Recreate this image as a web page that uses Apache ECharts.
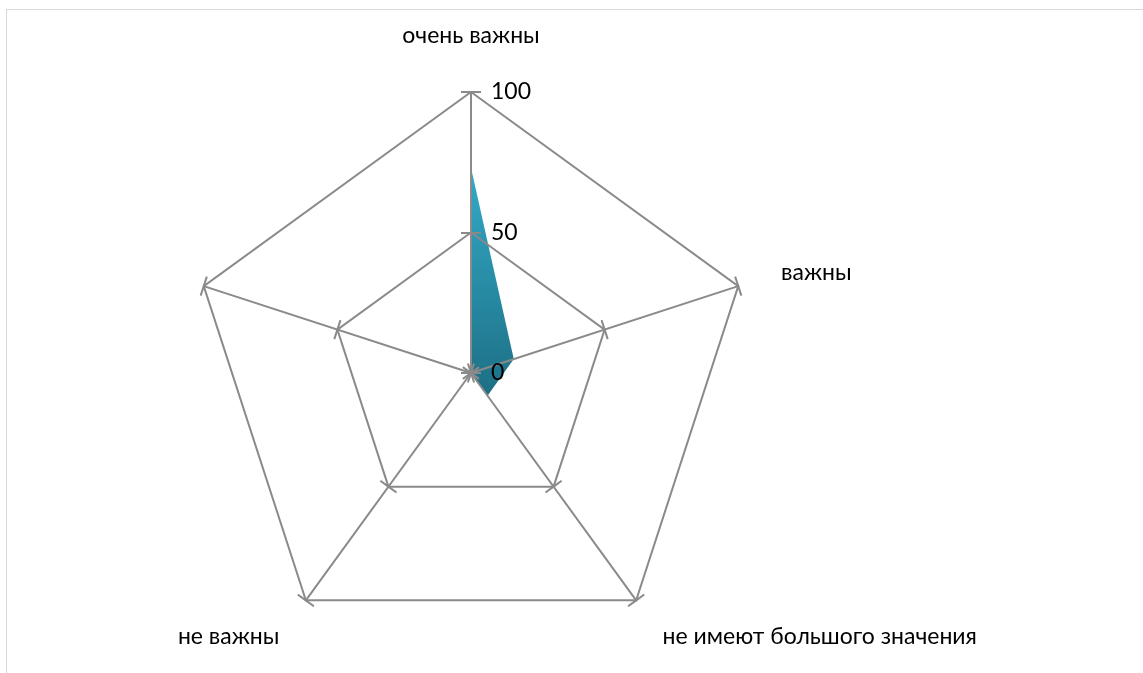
<!DOCTYPE html>
<html>
<head>
<meta charset="utf-8">
<script src="https://cdn.jsdelivr.net/npm/echarts@6/dist/echarts.min.js"></script>
<style>
  html, body { margin: 0; padding: 0; background: #fff; }
  #frame { position: absolute; left: 6px; top: 9px; width: 1200px; height: 700px; border: 1px solid #d9d9d9; }
  #main { position: absolute; left: 0; top: 0; width: 1143px; height: 673px; }
</style>
</head>
<body>
<div id="frame"></div>
<div id="main"></div>
<script>
// категории (против часовой стрелки от верха, как рисует ECharts) и значения, %
var categories = ['очень важны', '', 'не важны', 'не имеют большого значения', 'важны'];
var values = [73, 0, 0, 10, 16];
var axisMax = 100;

var chart = echarts.init(document.getElementById('main'));

var indicators = [];
var tickIndicators = [];
for (var i = 0; i < categories.length; i++) {
    var ind = { name: categories[i], min: 0, max: axisMax };
    if (i === 0) {
        ind.axisLabel = { show: true };
    }
    indicators.push(ind);
    tickIndicators.push({ name: '', min: 0, max: axisMax });
}

var lineColor = '#8a8a8a';
var fontFam = 'Lato, "Open Sans", sans-serif';

var option = {
    animation: false,
    radar: [{
        z: 5,
        center: [471, 373],
        radius: 281,
        startAngle: 90,
        splitNumber: 2,
        indicator: indicators,
        nameGap: 45,
        axisName: { color: '#000', fontSize: 23, fontFamily: fontFam },
        axisLine: { lineStyle: { color: lineColor, width: 2 } },
        splitLine: { lineStyle: { color: lineColor, width: 2 } },
        splitArea: { show: false },
        axisTick: { show: true, length: 10, lineStyle: { color: lineColor, width: 2 } },
        axisLabel: { show: false, color: '#000', fontSize: 23, fontFamily: fontFam, align: 'left', margin: -20 }
    }, {
        // вторая копия осей — только риски в другую сторону
        z: 5,
        center: [471, 373],
        radius: 281,
        startAngle: 90,
        splitNumber: 2,
        indicator: tickIndicators,
        axisName: { show: false },
        axisLine: { show: false },
        splitLine: { show: false },
        splitArea: { show: false },
        axisTick: { show: true, length: -10, lineStyle: { color: lineColor, width: 2 } },
        axisLabel: { show: false }
    }],
    series: [{
        type: 'radar',
        radarIndex: 0,
        z: 2,
        symbol: 'none',
        lineStyle: { width: 0 },
        areaStyle: {
            opacity: 1,
            color: new echarts.graphic.LinearGradient(0, 0, 0, 1, [
                { offset: 0, color: '#33aac8' },
                { offset: 1, color: '#1d6f85' }
            ])
        },
        data: [{ value: values }]
    }, {
        type: 'radar',
        radarIndex: 1,
        symbol: 'none',
        data: []
    }]
};
chart.setOption(option);
</script>
</body>
</html>
